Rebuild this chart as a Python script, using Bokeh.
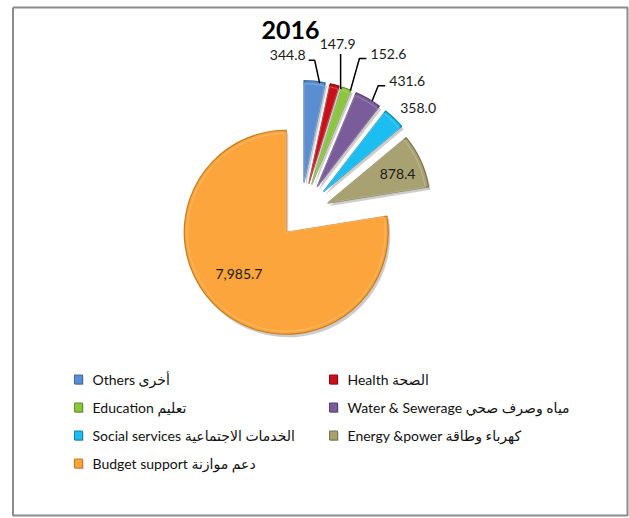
import math
from bokeh.plotting import figure
from bokeh.models import Range1d
from bokeh.core.properties import value
from bokeh.embed import file_html
from bokeh.resources import INLINE

# ---------------- data ----------------
title = "2016"
categories = ["Others أخرى", "Health الصحة", "Education تعليم",
              "Water & Sewerage مياه وصرف صحي", "Social services الخدمات الاجتماعية",
              "Energy &power  كهرباء وطاقة", "Budget support دعم موازنة"]
values = [344.8, 147.9, 152.6, 431.6, 358.0, 878.4, 7985.7]
value_labels = ["344.8", "147.9", "152.6", "431.6", "358.0", "878.4", "7,985.7"]

# ---------------- styles / layout ----------------
colors = ["#5A8ED0", "#C8101A", "#8CC63F", "#7B5C9A", "#1CBDF0", "#A8A171", "#FBA53C"]
edges = ["#3E6AA5", "#8E0A10", "#5F8F25", "#54406E", "#0E86AE", "#7A7448", "#C77A1E"]
explode = [33, 33, 33, 33, 33, 30, 22]
W, H = 629, 518
CX, CY = 300, 215  # pie centre (screen px)
R = 102
label_off = [(-27, -26), (3, -41), (42, -35), (39, -18), (24, -10), None, None]
inside_frac = [None, None, None, None, None, 0.74, 0.62]
inside_turn = [0, 0, 0, 0, 0, 2, 8]
leader = ["left", "top", "right", "right", None, None, None]
FONT = "Lato, 'DejaVu Sans', sans-serif"


def sy(y):
    return H - y


p = figure(width=W, height=H, output_backend="svg", toolbar_location=None,
           x_range=Range1d(0, W), y_range=Range1d(0, H),
           min_border=0, background_fill_color="white", border_fill_color="white")
p.axis.visible = False
p.grid.visible = False
p.outline_line_color = None

# chart border
p.line(x=[12.5, 12.5, 627, 627, 12.5], y=[sy(7), sy(515), sy(515), sy(7), sy(7)],
       line_color="#8C8C8C", line_width=2)

total = sum(values)
cum = 0.0
slices = []
for i, v in enumerate(values):
    a1 = cum / total * 360
    cum += v
    a2 = cum / total * 360
    am = (a1 + a2) / 2
    d = explode[i]
    cx = CX + d * math.sin(math.radians(am))
    cy = CY - d * math.cos(math.radians(am))
    slices.append(dict(a1=a1, a2=a2, am=am, cx=cx, cy=cy))

for i, s in enumerate(slices):
    p.wedge(x=s["cx"] + 2, y=sy(s["cy"] + 3), radius=R,
            start_angle=math.radians(90 - s["a2"]), end_angle=math.radians(90 - s["a1"]),
            fill_color="#555555", fill_alpha=0.3, line_color=None)
for i, s in enumerate(slices):
    p.wedge(x=s["cx"], y=sy(s["cy"]), radius=R,
            start_angle=math.radians(90 - s["a2"]), end_angle=math.radians(90 - s["a1"]),
            fill_color=colors[i], line_color=edges[i], line_width=1.2)
    p.wedge(x=s["cx"], y=sy(s["cy"]), radius=R - 3,
            start_angle=math.radians(90 - s["a2"]), end_angle=math.radians(90 - s["a1"]),
            fill_color=colors[i], line_color="white", line_alpha=0.25, line_width=1)

for i, s in enumerate(slices):
    am = math.radians(s["am"])
    if label_off[i] is not None:
        ax = s["cx"] + R * math.sin(am)
        ay = s["cy"] - R * math.cos(am)
        lx = ax + label_off[i][0]
        ly = ay + label_off[i][1]
        p.text(x=[lx], y=[sy(ly)], text=[value_labels[i]], text_font=value(FONT),
               text_font_size="14px", text_color="#1a1a1a", text_align="center",
               text_baseline="middle")
        hw = 19
        if leader[i] == "left":
            xs = [lx + hw + 2, lx + hw + 8, ax + 5]
            ys = [ly + 5, ly + 5, ay + 2]
        elif leader[i] == "right":
            xs = [lx - hw - 3, lx - hw - 10, ax + 4]
            ys = [ly + 5, ly + 5, ay + 2]
        elif leader[i] == "top":
            xs = [lx + 3, ax + 6]
            ys = [ly + 10, ay + 4]
        else:
            xs = ys = None
        if xs:
            p.line(x=xs, y=[sy(v) for v in ys], line_color="black", line_width=1.5)
    else:
        t = math.radians(s["am"] + inside_turn[i])
        f = inside_frac[i]
        lx = s["cx"] + f * R * math.sin(t)
        ly = s["cy"] - f * R * math.cos(t)
        p.text(x=[lx], y=[sy(ly)], text=[value_labels[i]], text_font=value(FONT),
               text_font_size="14px", text_color="#1a1a1a", text_align="center",
               text_baseline="middle")

p.text(x=[290], y=[sy(29)], text=[title], text_font=value(FONT), text_font_size="25px",
       text_font_style="bold", text_color="black", text_align="center", text_baseline="middle")

col_x = [78, 333]
row_y = [379, 407, 435, 463]
for i, name in enumerate(categories):
    r, c = divmod(i, 2)
    mx, my = col_x[c], row_y[r]
    p.rect(x=[mx + 1], y=[sy(my + 1)], width=8, height=9, fill_color="#777777",
           fill_alpha=0.5, line_color=None)
    p.rect(x=[mx], y=[sy(my)], width=8, height=9, fill_color=colors[i],
           line_color=edges[i], line_width=1)
    p.text(x=[mx + 14], y=[sy(my)], text=[name], text_font=value(FONT),
           text_font_size="14px", text_color="#111111", text_align="left",
           text_baseline="middle")

open("out.html", "w").write(file_html(p, INLINE))
